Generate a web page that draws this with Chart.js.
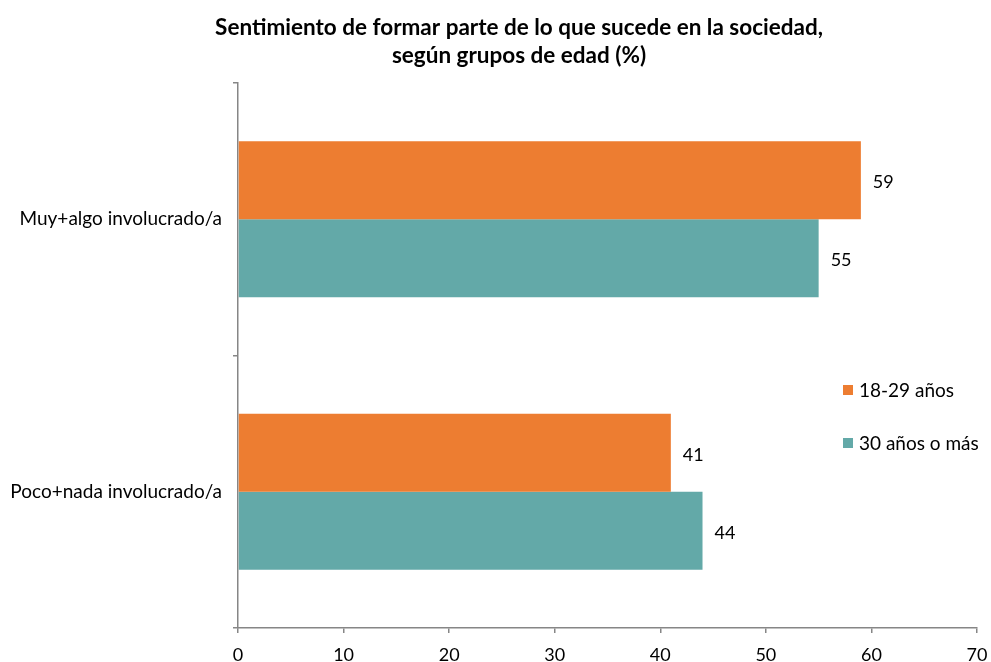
<!DOCTYPE html>
<html>
<head>
<meta charset="utf-8">
<script src="https://cdn.jsdelivr.net/npm/chart.js@4.4.1/dist/chart.umd.min.js"></script>
<style>
  html, body { margin: 0; padding: 0; background: #fff; }
  #wrap { width: 991px; height: 662px; position: relative; }
</style>
</head>
<body>
<div id="wrap"><canvas id="chart"></canvas></div>
<script>
const categories = ["Muy+algo involucrado/a", "Poco+nada involucrado/a"];
const seriesNames = ["18-29 años", "30 años o más"];
const young = [59, 41];
const older = [55, 44];
const xTicks = [0, 10, 20, 30, 40, 50, 60, 70];
const titleLines = ["Sentimiento de formar parte de lo que sucede en la sociedad,", "según grupos de edad (%)"];

const FONT = "Lato, 'Open Sans', sans-serif";
const AXIS_GREY = "#868686";

const labelPlugin = {
  id: "barLabels",
  afterDatasetsDraw(chart) {
    const ctx = chart.ctx;
    ctx.save();
    ctx.font = `18px ${FONT}`;
    ctx.fillStyle = "#000";
    ctx.textBaseline = "middle";
    ctx.textAlign = "left";
    chart.data.datasets.forEach((ds, i) => {
      chart.getDatasetMeta(i).data.forEach((bar, j) => {
        ctx.fillText(String(ds.data[j]), bar.x + 12, bar.y + 2);
      });
    });
    ctx.restore();
  },
};

const titleLegendPlugin = {
  id: "titleLegend",
  afterDraw(chart) {
    const ctx = chart.ctx;
    ctx.save();
    ctx.fillStyle = "#000";
    ctx.textAlign = "center";
    ctx.textBaseline = "middle";
    ctx.font = `bold 22.5px ${FONT}`;
    titleLines.forEach((line, i) => ctx.fillText(line, 519, 28 + i * 28));

    // legend sits inside the plot area on the right
    ctx.font = `19px ${FONT}`;
    ctx.textAlign = "left";
    chart.data.datasets.forEach((ds, i) => {
      const y = 390 + i * 53;
      ctx.fillStyle = ds.backgroundColor;
      ctx.fillRect(843, y - 5, 10, 10);
      ctx.fillStyle = "#000";
      ctx.fillText(ds.label, 859, y + 1);
    });
    ctx.restore();
  },
};

new Chart(document.getElementById("chart"), {
  type: "bar",
  data: {
    labels: categories,
    datasets: [
      { label: seriesNames[0], data: young, backgroundColor: "#ED7D31", barPercentage: 1, categoryPercentage: 0.573 },
      { label: seriesNames[1], data: older, backgroundColor: "#63A9A8", barPercentage: 1, categoryPercentage: 0.573 },
    ],
  },
  options: {
    indexAxis: "y",
    responsive: true,
    maintainAspectRatio: false,
    animation: false,
    layout: { padding: { top: 83, right: 14, left: 0, bottom: 0 } },
    scales: {
      x: {
        min: 0,
        max: 70,
        afterBuildTicks: (scale) => {
          scale.ticks = xTicks.map((v) => ({ value: v }));
        },
        afterFit: (scale) => {
          scale.height = 34;
          scale.paddingLeft = 0;
          scale.paddingRight = 0;
        },
        border: { display: true, color: AXIS_GREY, width: 1.5 },
        grid: { drawOnChartArea: false, drawTicks: true, tickLength: 5, color: AXIS_GREY, lineWidth: 1.5 },
        ticks: { color: "#000", font: { family: FONT, size: 18 }, padding: 11, maxRotation: 0 },
      },
      y: {
        offset: true,
        afterFit: (scale) => {
          scale.width = 238;
        },
        border: { display: true, color: AXIS_GREY, width: 1.5 },
        grid: { offset: true, drawOnChartArea: false, drawTicks: true, tickLength: 5, color: AXIS_GREY, lineWidth: 1.5 },
        ticks: { color: "#000", font: { family: FONT, size: 19 }, padding: 11 },
      },
    },
    plugins: {
      legend: { display: false },
      tooltip: { enabled: false },
    },
  },
  plugins: [labelPlugin, titleLegendPlugin],
});
</script>
</body>
</html>
